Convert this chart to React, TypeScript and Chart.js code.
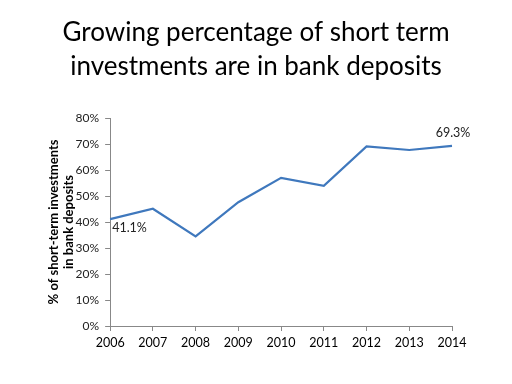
import React, { useEffect, useRef } from "react";
import { Chart, registerables } from "chart.js";

Chart.register(...registerables);

const years = ["2006", "2007", "2008", "2009", "2010", "2011", "2012", "2013", "2014"];
const shares = [41.1, 45.1, 34.5, 47.6, 57.0, 53.9, 69.1, 67.7, 69.3];
const titleLines = ["Growing percentage of short term", "investments are in bank deposits"];
const yTitleLines = ["% of short-term investments", "in bank deposits"];
const labelledIndexes = [0, 8];

const FONT = "Lato, 'Open Sans', sans-serif";

const pointLabels = {
  id: "pointLabels",
  afterDatasetsDraw(chart: any) {
    const meta = chart.getDatasetMeta(0);
    const ctx = chart.ctx;
    ctx.save();
    ctx.font = `12.5px ${FONT}`;
    ctx.fillStyle = "#222";
    labelledIndexes.forEach((i) => {
      const el = meta.data[i];
      const txt = shares[i].toFixed(1) + "%";
      if (i === 0) {
        ctx.textAlign = "left";
        ctx.textBaseline = "top";
        ctx.fillText(txt, el.x + 2, el.y + 3);
      } else {
        ctx.textAlign = "center";
        ctx.textBaseline = "bottom";
        ctx.fillText(txt, el.x + 1, el.y - 7);
      }
    });
    ctx.restore();
  },
};

const pageTitle = {
  id: "pageTitle",
  afterDraw(chart: any) {
    const ctx = chart.ctx;
    ctx.save();
    ctx.font = `26px ${FONT}`;
    ctx.fillStyle = "#000";
    ctx.textAlign = "center";
    ctx.textBaseline = "alphabetic";
    ctx.fillText(titleLines[0], chart.width / 2, 41);
    ctx.fillText(titleLines[1], chart.width / 2, 75);
    ctx.restore();
  },
};

export default function App() {
  const ref = useRef<HTMLCanvasElement | null>(null);
  useEffect(() => {
    if (!ref.current) return;
    const chart = new Chart(ref.current, {
      type: "line",
      data: {
        labels: years,
        datasets: [
          {
            data: shares,
            borderColor: "#3f78bd",
            borderWidth: 2.2,
            pointRadius: 0,
            tension: 0,
            fill: false,
          },
        ],
      },
      options: {
        animation: false,
        responsive: false,
        layout: { padding: { left: 46, right: 60, top: 118, bottom: 30 } },
        plugins: {
          legend: { display: false },
          tooltip: { enabled: false },
          title: { display: false },
        },
        scales: {
          x: {
            offset: false,
            grid: { drawOnChartArea: false, drawTicks: true, tickLength: 5, color: "#888" },
            border: { color: "#888", width: 1 },
            ticks: { color: "#000", font: { family: FONT, size: 12.5 }, padding: 4, maxRotation: 0 },
          },
          y: {
            min: 0,
            max: 80,
            grid: { drawOnChartArea: false, drawTicks: true, tickLength: 5, color: "#888" },
            border: { color: "#888", width: 1 },
            ticks: {
              stepSize: 10,
              color: "#222",
              font: { family: FONT, size: 12 },
              padding: 6,
              callback: (v: any) => v + "%",
            },
            title: {
              display: true,
              text: yTitleLines,
              color: "#000",
              font: { family: FONT, size: 13, weight: "bold", lineHeight: 1.1 },
              padding: { top: 1, bottom: -6 },
            },
          },
        },
      },
      plugins: [pointLabels, pageTitle],
    });
    return () => chart.destroy();
  }, []);
  return (
    <div style={{ position: "fixed", left: 0, top: 0, width: 512, height: 384, background: "#fff" }}>
      <canvas ref={ref} width={512} height={384} style={{ width: 512, height: 384, display: "block" }} />
    </div>
  );
}
